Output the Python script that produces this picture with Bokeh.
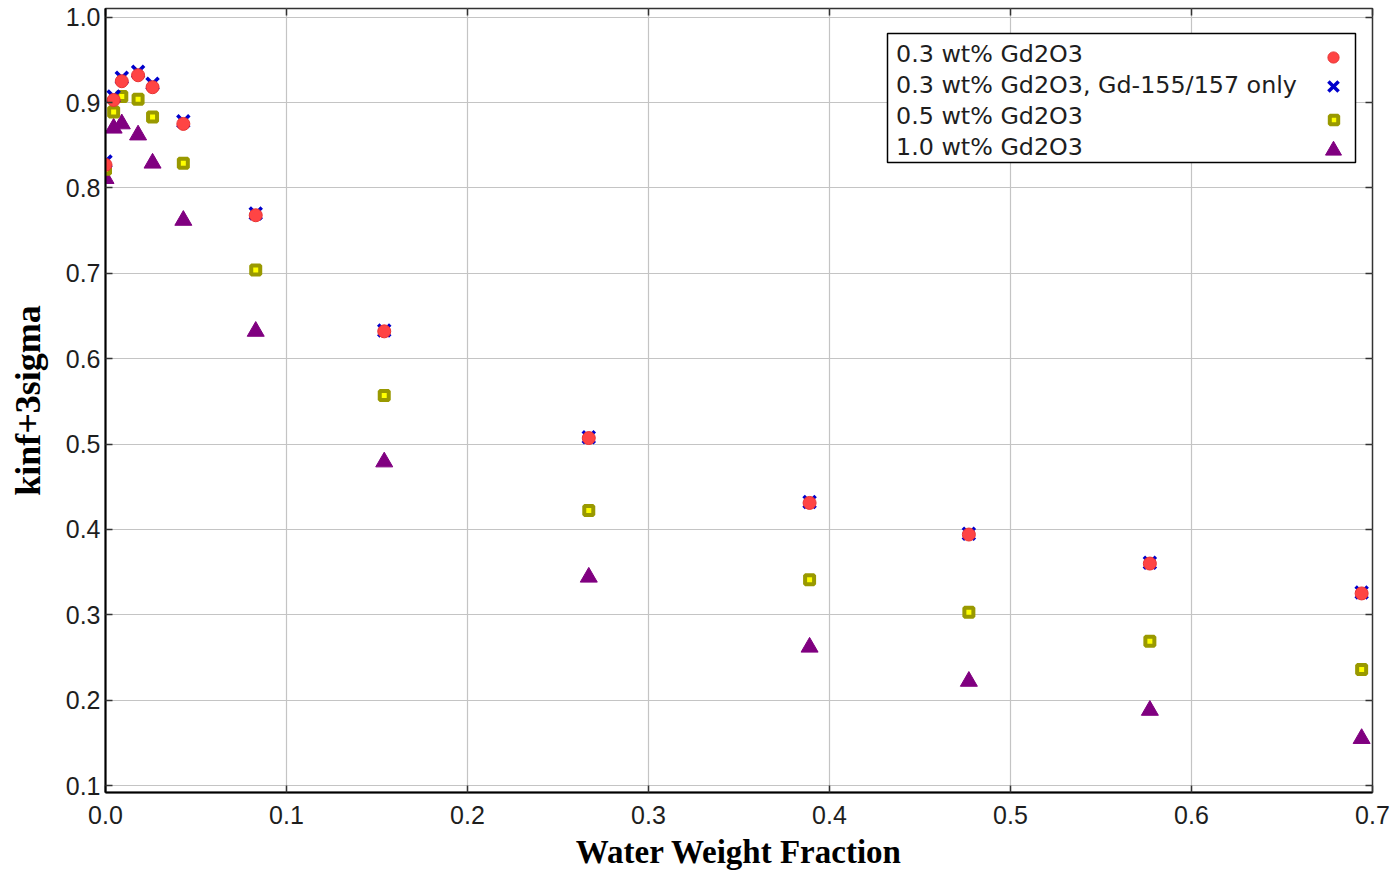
from bokeh.plotting import figure
from bokeh.models import Range1d, LinearAxis, Legend, LegendItem, FixedTicker, BoxAnnotation
from bokeh.embed import file_html
from bokeh.resources import INLINE

# ---- data ----
water_fraction = [0.0, 0.0045, 0.009, 0.018, 0.026, 0.043, 0.083, 0.154, 0.267, 0.389, 0.477, 0.577, 0.694]
gd2o3_03 = [0.827, 0.903, 0.925, 0.932, 0.918, 0.875, 0.768, 0.632, 0.507, 0.431, 0.394, 0.360, 0.325]
gd2o3_03_155_157 = [0.831, 0.907, 0.929, 0.936, 0.922, 0.878, 0.770, 0.633, 0.508, 0.432, 0.395, 0.361, 0.326]
gd2o3_05 = [0.822, 0.889, 0.907, 0.904, 0.883, 0.829, 0.704, 0.557, 0.422, 0.341, 0.303, 0.269, 0.236]
gd2o3_10 = [0.811, 0.870, 0.875, 0.862, 0.829, 0.762, 0.632, 0.479, 0.344, 0.262, 0.222, 0.188, 0.155]

series_labels = [
    "0.3 wt% Gd2O3",
    "0.3 wt% Gd2O3, Gd-155/157 only",
    "0.5 wt% Gd2O3",
    "1.0 wt% Gd2O3",
]

x_ticks = [0.0, 0.1, 0.2, 0.3, 0.4, 0.5, 0.6, 0.7]
x_tick_labels = ["0.0", "0.1", "0.2", "0.3", "0.4", "0.5", "0.6", "0.7"]
y_ticks = [0.1, 0.2, 0.3, 0.4, 0.5, 0.6, 0.7, 0.8, 0.9, 1.0]
y_tick_labels = ["0.1", "0.2", "0.3", "0.4", "0.5", "0.6", "0.7", "0.8", "0.9", "1.0"]

# ---- figure ----
p = figure(width=1394, height=873, output_backend="svg", toolbar_location=None,
           x_range=Range1d(0.0, 0.7), y_range=Range1d(0.0918, 1.0102),
           min_border_left=105, min_border_right=22, min_border_top=8, min_border_bottom=81)
p.background_fill_color = "white"
p.border_fill_color = "white"
p.outline_line_color = "#333333"
p.outline_line_width = 1.5

tick_font = "Liberation Sans"
title_font = "Liberation Serif"

p.xaxis.ticker = FixedTicker(ticks=x_ticks)
p.xaxis.major_label_overrides = dict(zip(x_ticks, x_tick_labels))
p.yaxis.ticker = FixedTicker(ticks=y_ticks)
p.yaxis.major_label_overrides = dict(zip(y_ticks, y_tick_labels))

for ax in (p.xaxis[0], p.yaxis[0]):
    ax.axis_line_color = "black"
    ax.axis_line_width = 2
    ax.major_tick_in = 7
    ax.major_tick_out = 0
    ax.major_tick_line_color = "#333333"
    ax.major_tick_line_width = 1.5
    ax.minor_tick_line_color = None
    ax.major_label_text_font = tick_font
    ax.major_label_text_font_size = "25px"
    ax.major_label_text_color = "#1e1e1e"
    ax.axis_label_text_font = title_font
    ax.axis_label_text_font_style = "bold"
    ax.axis_label_text_color = "black"

p.xaxis.axis_label = "Water Weight Fraction"
p.xaxis.axis_label_text_font_size = "33px"
p.xaxis.major_label_standoff = 13
p.xaxis.axis_label_standoff = 7

p.yaxis.axis_label = "kinf+3sigma"
p.yaxis.axis_label_text_font_size = "36px"
p.yaxis.major_label_standoff = 5
p.yaxis.axis_label_standoff = 15

# mirrored inward ticks on top and right (no labels)
top_axis = LinearAxis(ticker=FixedTicker(ticks=x_ticks), axis_line_color=None,
                      major_tick_in=7, major_tick_out=0, major_tick_line_color="#333333",
                      major_tick_line_width=1.5, minor_tick_line_color=None,
                      major_label_text_font_size="1px", major_label_text_color=None,
                      major_label_standoff=0)
right_axis = LinearAxis(ticker=FixedTicker(ticks=y_ticks), axis_line_color=None,
                        major_tick_in=7, major_tick_out=0, major_tick_line_color="#333333",
                        major_tick_line_width=1.5, minor_tick_line_color=None,
                        major_label_text_font_size="1px", major_label_text_color=None,
                        major_label_standoff=0)
p.add_layout(top_axis, "above")
p.add_layout(right_axis, "right")

p.xgrid.ticker = FixedTicker(ticks=x_ticks)
p.ygrid.ticker = FixedTicker(ticks=y_ticks)
p.grid.grid_line_color = "#c4c4c4"
p.grid.grid_line_width = 1.2

# ---- series ----
r_tri = p.scatter(water_fraction, gd2o3_10, marker="triangle", size=17,
                  fill_color="#800080", line_color="#800080")
r_sq = p.scatter(water_fraction, gd2o3_05, marker="square", size=9,
                 fill_color="#ffff00", line_color="#999900", line_width=4)
r_x = p.scatter(water_fraction, gd2o3_03_155_157, marker="x", size=17,
                line_color="#0000cc", line_width=3.5)
r_circ = p.scatter(water_fraction, gd2o3_03, marker="circle", size=13,
                   fill_color="#ff4444", line_color="#e83434", line_width=1)

# invisible renderer used only to carry legend texts
dummy = p.scatter(x=[], y=[], marker="circle", size=1, fill_alpha=0, line_alpha=0)

frame_left, frame_bottom = 105, 792

# legend frame (page px: x 887..1355, y 33..162), measured from the frame's bottom-left
legend_box = BoxAnnotation(left=887 - frame_left, right=1355 - frame_left,
                           bottom=frame_bottom - 162, top=frame_bottom - 33,
                           left_units="screen", right_units="screen",
                           bottom_units="screen", top_units="screen",
                           fill_color="white", fill_alpha=1.0,
                           line_color="black", line_width=1.5, line_alpha=1.0)
p.add_layout(legend_box)

legend_text = Legend(
    items=[LegendItem(label=s, renderers=[dummy]) for s in series_labels],
    location=(896 - frame_left, frame_bottom - 161), glyph_width=0, glyph_height=29,
    label_standoff=0, label_width=440, padding=0, spacing=2, margin=0,
    border_line_color=None, background_fill_alpha=0.0,
    label_text_font="DejaVu Sans", label_text_font_size="23.8px", label_text_color="#1e1e1e",
)
p.add_layout(legend_text)

# legend markers on the right side of the box, one small legend per series
marker_rows = [(r_circ, 57, 28), (r_x, 86, 36), (r_sq, 120, 21), (r_tri, 150, 40)]
for rend, yc, g in marker_rows:
    lg = Legend(
        items=[LegendItem(label=" ", renderers=[rend])],
        location=(1333 - frame_left - g // 2, frame_bottom - yc - g // 2),
        glyph_width=g, glyph_height=g, label_standoff=0, label_width=0, label_height=0,
        padding=0, spacing=0, margin=0,
        border_line_color=None, background_fill_alpha=0.0,
        label_text_font_size="1px", label_text_color=None,
    )
    p.add_layout(lg)

open("out.html", "w").write(file_html(p, INLINE))
